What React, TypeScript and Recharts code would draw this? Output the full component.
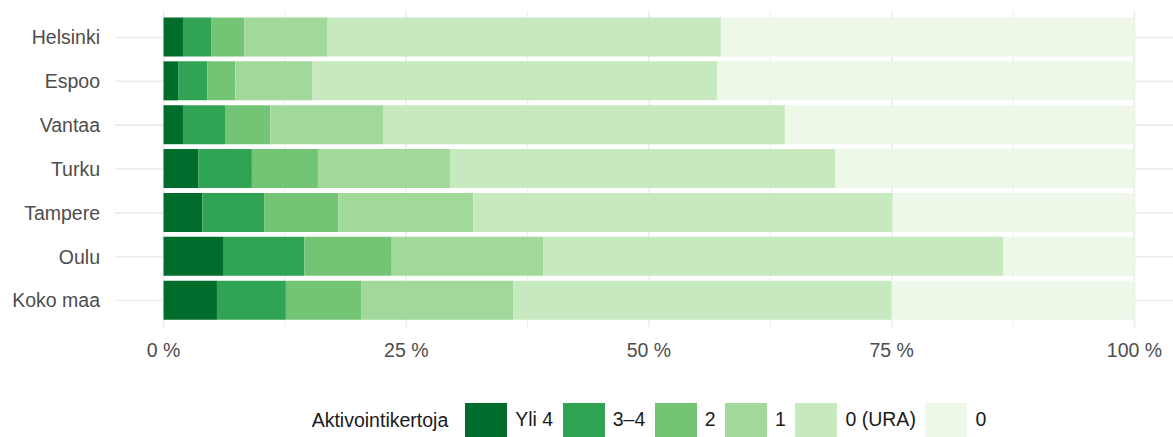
import React from "react";
import {
  BarChart,
  Bar,
  XAxis,
  YAxis,
  CartesianGrid,
  Legend,
} from "recharts";

const cities = ["Helsinki", "Espoo", "Vantaa", "Turku", "Tampere", "Oulu", "Koko maa"];

const yli4 = [2.0, 1.5, 2.0, 3.6, 4.0, 6.2, 5.5];
const kerta34 = [2.9, 3.0, 4.4, 5.5, 6.4, 8.3, 7.1];
const kerta2 = [3.4, 2.9, 4.6, 6.8, 7.6, 9.0, 7.8];
const kerta1 = [8.6, 7.9, 11.6, 13.6, 13.9, 15.6, 15.6];
const nollaUra = [40.5, 41.7, 41.4, 39.7, 43.2, 47.4, 39.0];
const nolla = [42.6, 43.0, 36.0, 30.8, 24.9, 13.5, 25.0];

const seriesLabels = ["Yli 4", "3–4", "2", "1", "0 (URA)", "0"];
const seriesColors = ["#006d2c", "#31a354", "#74c476", "#a1d99b", "#c7e9c0", "#edf8e9"];
const seriesValues = [yli4, kerta34, kerta2, kerta1, nollaUra, nolla];

const xTicks = [0, 25, 50, 75, 100];
const minorTicks = [12.5, 37.5, 62.5, 87.5];
const xDomain: [number, number] = [-5, 105];

const data = cities.map((name, i) => {
  const row: Record<string, string | number> = { name };
  seriesLabels.forEach((label, s) => {
    row[label] = seriesValues[s][i];
  });
  return row;
});

const textStyle = { fill: "#4d4d4d", fontSize: 19.5 };

const renderLegend = () => (
  <div
    style={{
      display: "flex",
      alignItems: "center",
      height: 34,
      paddingLeft: 311.7,
      fontSize: 19.5,
      color: "#1a1a1a",
      whiteSpace: "nowrap",
    }}
  >
    <span style={{ marginRight: 17 }}>Aktivointikertoja</span>
    {seriesLabels.map((label, i) => (
      <span key={label} style={{ display: "flex", alignItems: "center", marginRight: 9.5 }}>
        <span
          style={{
            display: "inline-block",
            width: 42,
            height: 33.4,
            background: seriesColors[i],
            marginRight: 8,
          }}
        />
        <span>{label}</span>
      </span>
    ))}
  </div>
);

// minor vertical grid lines (12.5 %, 37.5 % ...)
const minorGenerator = (props: any) => {
  const { xAxis, offset } = props || {};
  return minorTicks.map((t) => {
    if (xAxis && typeof xAxis.scale === "function") return xAxis.scale(t);
    return offset.left + ((t - xDomain[0]) / (xDomain[1] - xDomain[0])) * offset.width;
  });
};

export default function App() {
  return (
    <div
      style={{
        position: "absolute",
        left: 0,
        top: 0,
        width: 1173,
        height: 437,
        overflow: "hidden",
        background: "#ffffff",
        fontFamily: "'Liberation Sans', Arial, sans-serif",
      }}
    >
      <BarChart
        width={1183}
        height={437}
        data={data}
        layout="vertical"
        margin={{ top: 11, right: 0, bottom: 0, left: 0 }}
        barSize={39}
      >
        <CartesianGrid
          horizontal={false}
          vertical
          verticalCoordinatesGenerator={minorGenerator}
          stroke="#ebebeb"
          strokeWidth={0.9}
        />
        <CartesianGrid stroke="#ebebeb" strokeWidth={1.6} syncWithTicks />
        <XAxis
          type="number"
          domain={xDomain}
          ticks={xTicks}
          allowDataOverflow
          tickFormatter={(v: number) => `${v} %`}
          axisLine={false}
          tickLine={false}
          tickSize={0}
          tickMargin={16}
          height={76}
          tick={textStyle}
        />
        <YAxis
          type="category"
          dataKey="name"
          width={115}
          axisLine={false}
          tickLine={false}
          tickSize={0}
          tickMargin={15}
          padding={{ top: 4.5, bottom: 4.5 }}
          tick={textStyle}
        />
        <Legend
          verticalAlign="bottom"
          height={34}
          content={renderLegend}
          wrapperStyle={{ left: 0, width: 1173 }}
        />
        {seriesLabels.map((label, i) => (
          <Bar
            key={label}
            dataKey={label}
            stackId="a"
            fill={seriesColors[i]}
            isAnimationActive={false}
          />
        ))}
      </BarChart>
    </div>
  );
}
